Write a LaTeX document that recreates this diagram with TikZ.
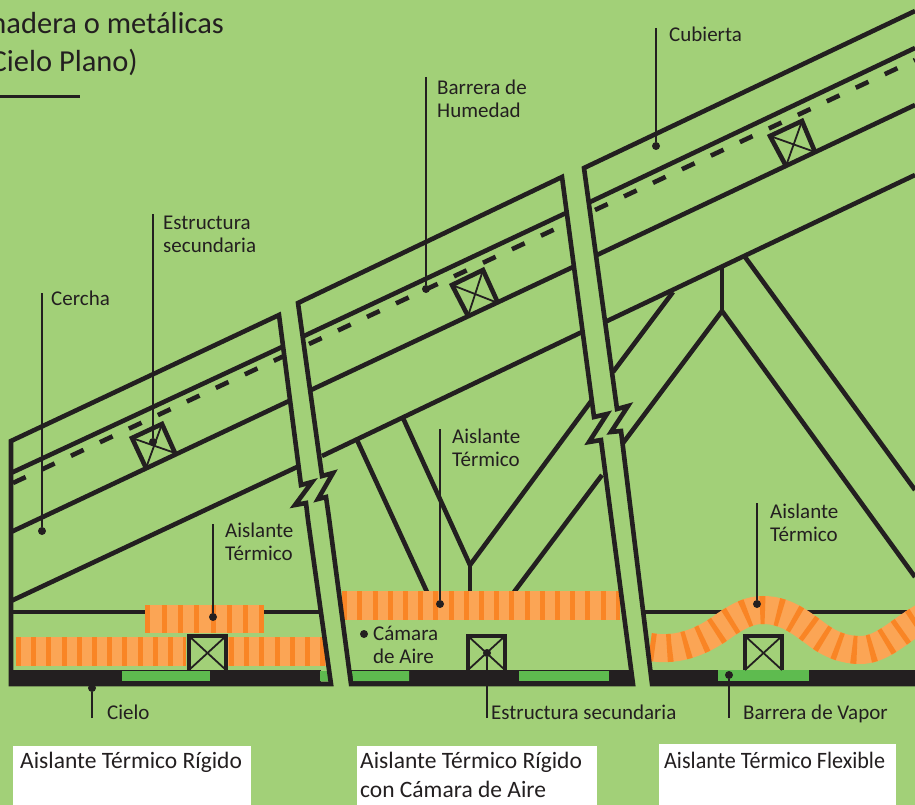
\documentclass[tikz,border=0pt]{standalone}
\usepackage{fontspec}
\usepackage{graphicx}
\setmainfont{Carlito}
\definecolor{fondo}{HTML}{A2D078}
\definecolor{tinta}{HTML}{231F20}
\definecolor{naranja}{HTML}{FBA555}
\definecolor{naranjaosc}{HTML}{F98525}
\definecolor{verde}{HTML}{5EBB4F}
\tikzset{
  muro/.style={draw=tinta,line width=4.6pt,miter limit=8},
  tabla/.style={draw=tinta,line width=4.6pt},
  punteada/.style={draw=tinta,line width=4.6pt,dash pattern=on 14pt off 18pt},
  guia/.style={draw=tinta,line width=2pt},
  punto/.style={circle,fill=tinta,inner sep=0pt,minimum size=8pt},
  etiqueta/.style={text=tinta,font=\fontsize{21}{23}\selectfont,anchor=base west,inner sep=0pt,align=left},
  titulo/.style={text=tinta,font=\fontsize{30.5}{36}\selectfont,anchor=base east,inner sep=0pt},
  caja/.style={text=tinta,font=\fontsize{23.5}{29}\selectfont,anchor=base west,inner sep=0pt,align=left},
  aislante/.style={draw=naranja,line width=#1},
  franjas/.style={draw=naranjaosc,line width=#1,dash pattern=on 5pt off 10.2pt}
}
\begin{document}
\begin{tikzpicture}[x=1pt,y=-1pt]
  \useasboundingbox (0,0) rectangle (915,805);
  \clip (0,0) rectangle (915,805);
  \fill[fondo] (0,0) rectangle (915,805);

  \fill[white] (13,746) rectangle (251,805);
  \fill[white] (357,746) rectangle (597,805);
  \fill[white] (659,744) rectangle (896,805);

  \node[titulo] (titulouno) at (224,34) {madera o metálicas};
  \node[titulo] (titulodos) at (138,72) {(Cielo Plano)};
  \coordinate (raya) at (0,97);
  \coordinate (rayafin) at (80,97);
  \draw[tinta,line width=3pt] (raya) -- (rayafin);

  % correas
  \draw[tabla] (11,473) -- (282,347);
  \draw[tabla] (11,532) -- (289,401);
  \draw[tabla] (11,601) -- (297,467);
  \draw[punteada] (13,483) -- (284,356);
  \draw[tabla] (304,336) -- (566,213);
  \draw[tabla] (311,390) -- (573,267);
  \draw[tabla] (322,456) -- (582,332);
  \draw[punteada] (309,344) -- (566,224);
  \draw[tabla] (590,202) -- (915,48);
  \draw[tabla] (597,255) -- (915,105);
  \draw[tabla] (605,322) -- (915,175);
  \draw[punteada] (595,210) -- (915,60);

  % cerchas
  \draw[tabla] (357,440) -- (427,592);
  \draw[tabla] (403,418) -- (470,565);
  \draw[tabla] (470,565) -- (470,592);
  \draw[tabla] (470,565) -- (592,400);
  \draw[tabla] (514,592) -- (602,475);
  \draw[tabla] (613,372) -- (673,292);
  \draw[tabla] (623,443) -- (722,311);
  \draw[tabla] (722,268) -- (722,311);
  \draw[tabla] (722,311) -- (915,577);
  \draw[tabla] (745,257) -- (915,490);

  % cielo
  \draw[tabla] (11,612) -- (321,612);
  \draw[tabla] (645,612) -- (915,612);

  % aislante
  \draw[aislante=28pt] (145,619) -- (264,619);
  \draw[franjas=28pt,dash pattern=on 5pt off 11.3pt] (145.3,619) -- (264,619);
  \draw[aislante=29pt] (16,651.5) -- (186,651.5);
  \draw[franjas=29pt] (16,651.5) -- (186,651.5);
  \draw[aislante=29pt] (228,651.5) -- (326,651.5);
  \draw[franjas=29pt] (229,651.5) -- (325,651.5);
  \draw[aislante=29pt] (342,605.5) -- (620,605.5);
  \draw[franjas=29pt] (342.2,605.5) -- (620,605.5);
  \draw[aislante=28pt] (650,647) .. controls (680,652) and (705,640) .. (725,625) .. controls (740,615) and (750,610) .. (763,610) .. controls (785,610) and (800,622) .. (815,633) .. controls (830,645) and (845,650) .. (860,650) .. controls (880,650) and (895,635) .. (915,622) -- (950,600);
  \draw[franjas=28pt,dash pattern=on 5pt off 12pt] (650,647) .. controls (680,652) and (705,640) .. (725,625) .. controls (740,615) and (750,610) .. (763,610) .. controls (785,610) and (800,622) .. (815,633) .. controls (830,645) and (845,650) .. (860,650) .. controls (880,650) and (895,635) .. (915,622) -- (950,600);

  % barras de cielo
  \fill[tinta] (10,670) rectangle (321,685);
  \fill[tinta] (350,670) -- (631,670) -- (633,685) -- (351,685) -- cycle;
  \fill[tinta] (651,670) rectangle (915,685);
  \fill[verde] (122,671) rectangle (210,681);
  \fill[verde] (320,671) -- (328,671) -- (329,681) -- (320,681) -- cycle;
  \fill[verde] (352,671) -- (409,671) -- (409,681) -- (353,681) -- cycle;
  \fill[verde] (519,671) rectangle (609,681);
  \fill[verde] (718,670) rectangle (809,681);

  % estructura secundaria
  \foreach \bx in {189,468,745} {
    \draw[tabla,miter limit=4] (\bx,670) -- (\bx,636) -- (\bx+37,636) -- (\bx+37,670);
    \draw[tinta,line width=1.8pt] (\bx,636) -- (\bx+37,670);
    \draw[tinta,line width=1.8pt] (\bx+37,636) -- (\bx,670);
  }
  \foreach \ax/\ay/\bx/\by/\cx/\cy/\dx/\dy in {132/438/162/424/175/453/146/468,452/285/483/270/498/303/468/316,770/136/802/121/815/152/786/166} {
    \draw[tabla] (\dx,\dy) -- (\ax,\ay) -- (\bx,\by) -- (\cx,\cy);
    \draw[tinta,line width=1.8pt] (\ax,\ay) -- (\cx,\cy);
    \draw[tinta,line width=1.8pt] (\bx,\by) -- (\dx,\dy);
  }

  % paneles
  \draw[muro] (11,684) -- (11,441) -- (279,315) -- (301,485) -- (312,482) -- (295,505) -- (306,503) -- (308,520) -- (331,684) -- cycle;
  \draw[muro] (298,303) -- (562,177) -- (594,417) -- (607,414) -- (589,442) -- (601,440) -- (633,684) -- (351,684) -- (329,518) -- (326,497) -- (318,499) -- (333,473) -- (322,476) -- cycle;
  \draw[muro] (915,11) -- (584,168) -- (617,409) -- (628,406) -- (611,432) -- (621,431) -- (652,684) -- (915,684);

  % rotulos
  \node[etiqueta] (cubierta) at (669,42) {Cubierta};
  \node[etiqueta] (humedad) at (437,118) {Barrera de\\Humedad};
  \node[etiqueta] (secundaria) at (163,252) {Estructura\\secundaria};
  \node[etiqueta] (cercha) at (51,305) {Cercha};
  \node[etiqueta] (termicouno) at (225,560) {Aislante\\Térmico};
  \node[etiqueta] (termicodos) at (452,466) {Aislante\\Térmico};
  \node[etiqueta] (termicotres) at (770,541) {Aislante\\Térmico};
  \node[etiqueta] (camara) at (373,663) {Cámara\\de Aire};
  \node[etiqueta] (cielo) at (107,719) {Cielo};
  \node[etiqueta] (secundariados) at (491,719) {Estructura secundaria};
  \node[etiqueta] (vapor) at (743,719) {Barrera de Vapor};

  \node[caja] (rigido) at (20,768) {Aislante Térmico Rígido};
  \node[caja] (camaraaire) at (360,797) {Aislante Térmico Rígido\\con Cámara de Aire};
  \node[caja] (flexible) at (664,768) {\scalebox{0.94}[1]{Aislante Térmico Flexible}};

  % guias
  \foreach \nombre/\px/\pa/\pb in {cubierta/656/28/146,humedad/426/77/289,secundaria/153/214/442,cercha/42/293/531,termicouno/213/524/617,termicodos/440/429/604,termicotres/757/503/604,cielo/92/718/688,secundariados/487/718/653,vapor/729/718/675} {
    \coordinate (g\nombre) at (\px,\pa);
    \node[punto] (p\nombre) at (\px,\pb) {};
    \draw[guia] (g\nombre) -- (p\nombre);
  }
  \node[punto] (pcamara) at (364,634) {};
\end{tikzpicture}
\end{document}
